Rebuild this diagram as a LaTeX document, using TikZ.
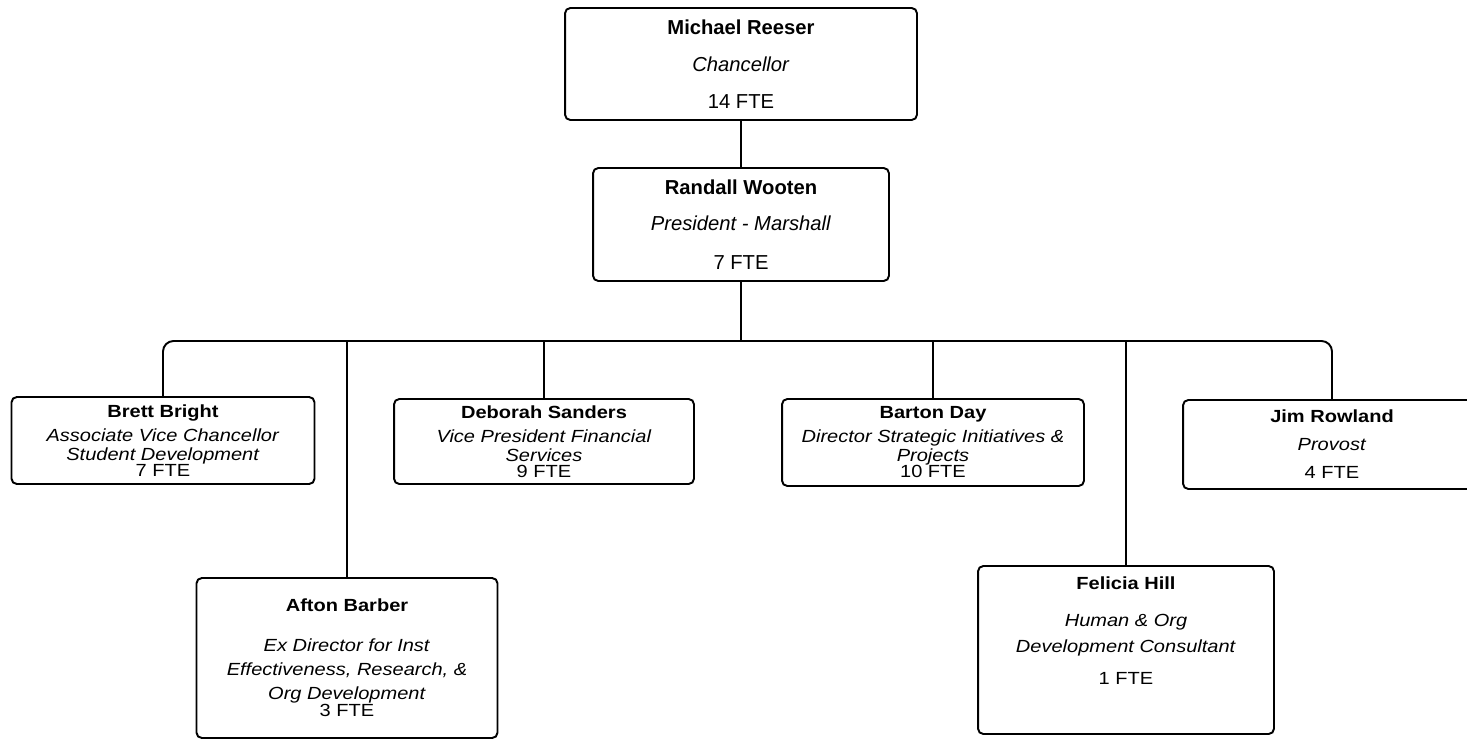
\documentclass[tikz,border=0pt]{standalone}
\usepackage{fontspec}
\setmainfont{Liberation Sans}
\newfontfamily\lowfont{Liberation Sans}[FakeStretch=1.14]

\begin{document}
\begin{tikzpicture}[
  x=0.02cm, y=-0.02cm,
  box/.style={draw, line width=1.1pt, rounded corners=3pt, inner sep=0pt,
    align=center, font=\fontsize{11.5}{13}\selectfont},
  lowbox/.style={box, font=\lowfont\fontsize{10}{12}\selectfont},
  link/.style={draw, line width=1.1pt}]

  \useasboundingbox[fill=white] (0,0) rectangle (1467,740);

  % boxes
  \node[box, minimum width=7.04cm, minimum height=2.24cm] (reeser) at (741, 64)
    {\textbf{Michael Reeser}\\[8pt]\textit{Chancellor}\\[8pt]14 FTE};
  \node[box, minimum width=5.92cm, minimum height=2.26cm] (wooten) at (741, 224.5)
    {\textbf{Randall Wooten}\\[8pt]\textit{President - Marshall}\\[9pt]7 FTE};
  \node[lowbox, minimum width=6.06cm, minimum height=1.74cm] (bright) at (163, 440.5)
    {\textbf{Brett Bright}\\[1.6pt]\textit{Associate Vice Chancellor}\\[-1.2pt]%
     \textit{Student Development}\\[-2.8pt]7 FTE};
  \node[lowbox, minimum width=6.00cm, minimum height=1.70cm] (sanders) at (544, 441.5)
    {\textbf{Deborah Sanders}\\[1.6pt]\textit{Vice President Financial}\\[-1.2pt]%
     \textit{Services}\\[-2.8pt]9 FTE};
  \node[lowbox, minimum width=6.04cm, minimum height=1.74cm] (day) at (933, 442.5)
    {\textbf{Barton Day}\\[1.6pt]\textit{Director Strategic Initiatives \&}\\[-1.2pt]%
     \textit{Projects}\\[-2.8pt]10 FTE};
  \node[lowbox, minimum width=5.96cm, minimum height=1.78cm] (rowland) at (1332, 444.5)
    {\textbf{Jim Rowland}\\[3.9pt]\textit{Provost}\\[3.9pt]4 FTE};
  \node[lowbox, minimum width=6.02cm, minimum height=3.20cm] (barber) at (347, 658)
    {\textbf{Afton Barber}\\[10.7pt]\textit{Ex Director for Inst}\\[1.6pt]%
     \textit{Effectiveness, Research, \&}\\[1.6pt]\textit{Org Development}\\[-2.3pt]3 FTE};
  \node[lowbox, minimum width=5.92cm, minimum height=3.36cm, text depth=22pt] (hill) at (1126, 650)
    {\textbf{Felicia Hill}\\[9pt]\textit{Human \& Org}\\[2.7pt]%
     \textit{Development Consultant}\\[6.1pt]1 FTE};

  % lines
  \coordinate (bus) at (741, 341);
  \draw[link] (reeser) -- (wooten);
  \draw[link] (wooten) -- (bus);
  \draw[link, rounded corners=6pt] (bright) |- (bus) -| (rowland);
  \draw[link] (barber)  -- (barber  |- bus);
  \draw[link] (sanders) -- (sanders |- bus);
  \draw[link] (day)     -- (day     |- bus);
  \draw[link] (hill)    -- (hill    |- bus);
\end{tikzpicture}
\end{document}
